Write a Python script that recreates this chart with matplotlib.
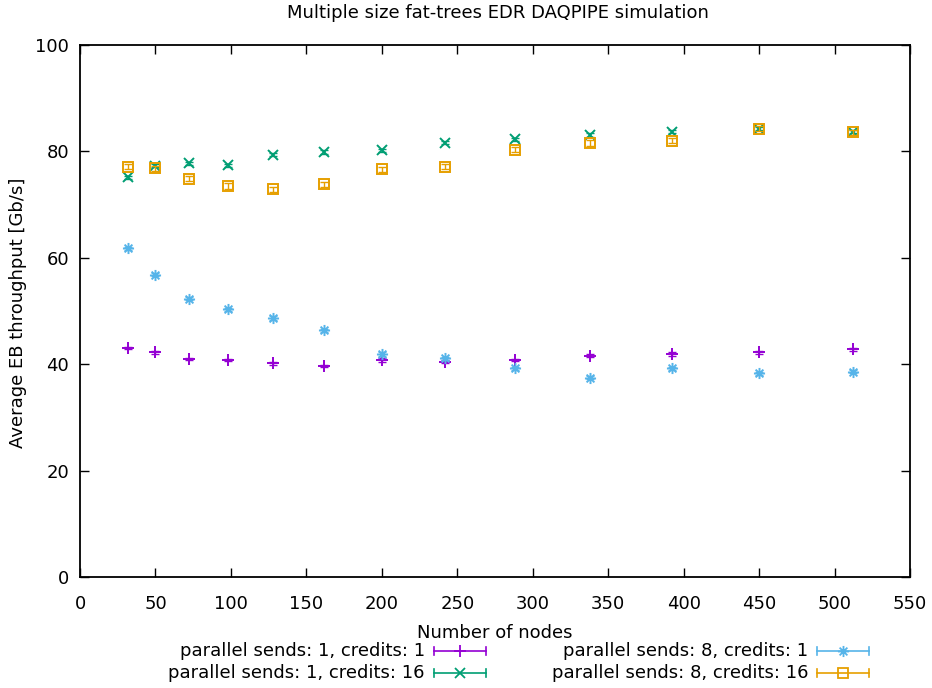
import matplotlib
matplotlib.use("Agg")
import matplotlib.pyplot as plt
from matplotlib.path import Path
from matplotlib.lines import Line2D

# Fat-tree sizes (number of nodes) and average event-building throughput [Gb/s]
nodes = [32, 50, 72, 98, 128, 162, 200, 242, 288, 338, 392, 450, 512]
s1_c1 = [43.0, 42.2, 41.0, 40.8, 40.2, 39.7, 40.8, 40.5, 40.8, 41.6, 41.9, 42.2, 42.8]
s1_c16 = [75.1, 77.3, 77.8, 77.4, 79.4, 79.9, 80.2, 81.6, 82.3, 83.1, 83.7, 84.3, 83.7]
s8_c1 = [61.8, 56.8, 52.3, 50.3, 48.7, 46.4, 41.9, 41.1, 39.2, 37.5, 39.2, 38.3, 38.6]
s8_c16 = [77.1, 76.8, 74.9, 73.5, 72.9, 73.8, 76.6, 77.1, 80.3, 81.6, 82.0, 84.3, 83.6]

# Standard deviations over runs
s1_c1_err = [0.2, 0.2, 0.2, 0.2, 0.3, 0.2, 0.3, 0.3, 0.2, 0.3, 0.3, 0.3, 0.3]
s1_c16_err = [0.3, 0.3, 0.3, 0.3, 0.3, 0.3, 0.3, 0.3, 0.3, 0.3, 0.3, 0.3, 0.3]
s8_c1_err = [0.3, 0.3, 0.3, 0.3, 0.4, 0.3, 0.3, 0.3, 0.3, 0.3, 0.3, 0.3, 0.3]
s8_c16_err = [0.5, 0.5, 0.5, 0.5, 0.5, 0.5, 0.5, 0.5, 0.5, 0.5, 0.5, 0.5, 0.5]

labels = [
    "parallel sends: 1, credits: 1",
    "parallel sends: 1, credits: 16",
    "parallel sends: 8, credits: 1",
    "parallel sends: 8, credits: 16",
]
colors = ["#9400d3", "#009e73", "#56b4e9", "#e69f00"]

# gnuplot-like asterisk: plus and cross superimposed
asterisk = Path(
    [(-1, 0), (1, 0), (0, -1), (0, 1), (-0.7, -0.7), (0.7, 0.7), (-0.7, 0.7), (0.7, -0.7)],
    [Path.MOVETO, Path.LINETO] * 4,
)
markers = ["+", "x", asterisk, "s"]
msizes = [8, 7, 8, 7]

FS = 13
plt.rcParams["font.family"] = ["DejaVu Sans"]
plt.rcParams["font.size"] = FS

W, H = 932, 688
fig = plt.figure(figsize=(W / 100, H / 100), dpi=100)
ax = fig.add_axes([80 / W, 1 - 577 / H, (910 - 80) / W, (577 - 45) / H])

series = [s1_c1, s1_c16, s8_c1, s8_c16]
errs = [s1_c1_err, s1_c16_err, s8_c1_err, s8_c16_err]
for ys, es, c, m, ms in zip(series, errs, colors, markers, msizes):
    ax.errorbar(nodes, ys, yerr=es, fmt="none", ecolor=c, elinewidth=1.0,
                capsize=3, capthick=1.0)
    ax.plot(nodes, ys, linestyle="none", marker=m, markersize=ms,
            markerfacecolor="none", markeredgecolor=c, markeredgewidth=1.4, color=c)

ax.set_xlim(0, 550)
ax.set_ylim(0, 100)
ax.set_xticks(range(0, 551, 50))
ax.set_yticks(range(0, 101, 20))
ax.tick_params(direction="in", length=6.5, width=1.0, top=True, right=True,
               labelsize=FS, colors="black")
ax.tick_params(axis="x", pad=13)
ax.tick_params(axis="y", pad=8)
for sp in ax.spines.values():
    sp.set_linewidth(1.3)

fig.text(498 / W, 1 - 13 / H, "Multiple size fat-trees EDR DAQPIPE simulation",
         ha="center", va="center", fontsize=FS)
fig.text(18 / W, 1 - 313 / H, "Average EB throughput [Gb/s]", rotation=90,
         ha="center", va="center", fontsize=FS)
fig.text(495 / W, 1 - 633 / H, "Number of nodes", ha="center", va="center", fontsize=FS)

# Key below the plot: two columns, right-aligned text followed by a sample
key_pos = [
    (425, 651), (425, 673), (808, 651), (808, 673),
]
for lab, c, m, ms, (tx, ty) in zip(labels, colors, markers, msizes, key_pos):
    fy = 1 - ty / H
    fig.text(tx / W, fy, lab, ha="right", va="center", fontsize=FS)
    x0, x1 = (tx + 9) / W, (tx + 61) / W
    fig.add_artist(Line2D([x0, x1], [fy, fy], color=c, lw=1.2, transform=fig.transFigure))
    dy = 4 / H
    for xe in (x0, x1):
        fig.add_artist(Line2D([xe, xe], [fy - dy, fy + dy], color=c, lw=1.2,
                              transform=fig.transFigure))
    fig.add_artist(Line2D([(x0 + x1) / 2], [fy], linestyle="none", marker=m, markersize=ms,
                          markerfacecolor="none", markeredgecolor=c, markeredgewidth=1.3,
                          transform=fig.transFigure))

fig.savefig("out.png", dpi=100)
